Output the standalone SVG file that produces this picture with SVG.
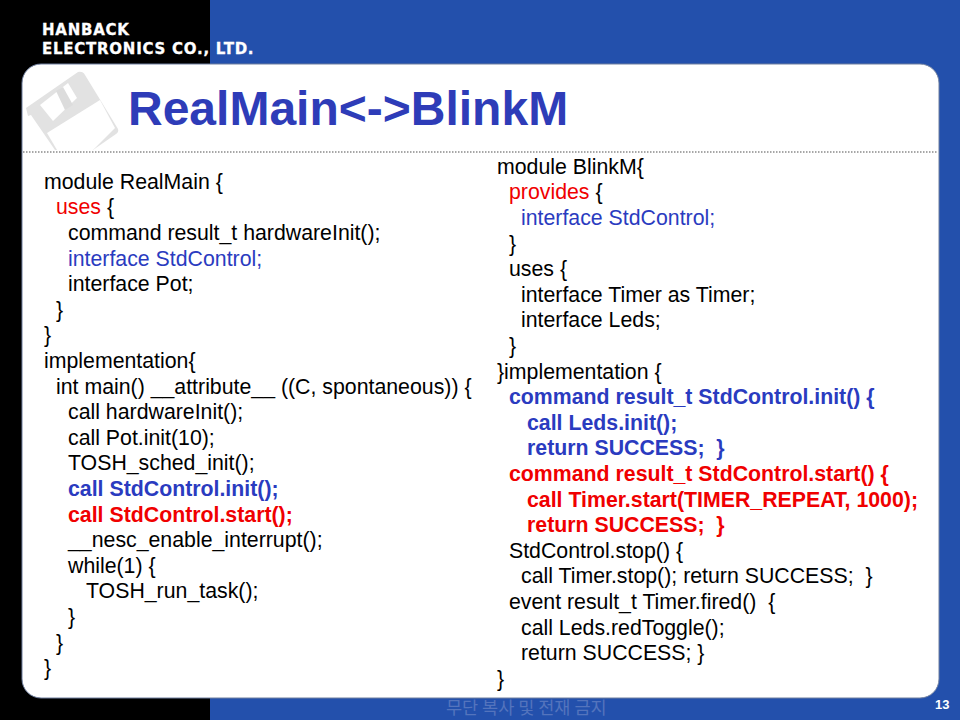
<svg xmlns="http://www.w3.org/2000/svg" width="960" height="720" viewBox="0 0 960 720">
<style>
text{font-family:"Liberation Sans",Arial,sans-serif;white-space:pre}
.c{font-size:21.3px;fill:#000}
.b{fill:#2a3bc0}
.r{fill:#f00000}
.bb{font-weight:bold}
.h{font-family:"DejaVu Sans",sans-serif;font-size:15px;font-weight:bold;fill:#fff;letter-spacing:.75px;stroke:#fff;stroke-width:.3px}
</style>
<rect width="960" height="720" fill="#2350ac"/>
<rect width="210" height="720" fill="#000"/>
<rect x="22" y="64" width="917" height="634" rx="19" fill="#fff" stroke="#6f7f9f" stroke-width="1"/>
<g id="disk">
<path d="M26 108L78 72Q83 71 85 75L118 129Q119 132 116 134L93 150H55L31 115L28 116Z" fill="#e2e2e2"/>
<path d="M40 105L68 83L77 98L53 121Z" fill="#fff"/>
<path d="M56 91L63 87L73 105L65 110Z" fill="#dcdcdc"/>
<path d="M47 133L100 100L115 128L93 150H57Z" fill="#fff"/>
</g>
<line x1="23" y1="152" x2="938" y2="152" stroke="#8a8a8a" stroke-width="1.5" stroke-dasharray="1.5 1.5"/>
<text class="h" x="42" y="35">HANBACK</text>
<text class="h" x="42" y="54">ELECTRONICS CO., LTD.</text>
<text x="128" y="125" font-size="48" font-weight="bold" fill="#2e3cb8">RealMain&lt;-&gt;BlinkM</text>
<g id="left-code">
<text class="c" x="44" y="189">module RealMain {</text>
<text class="c" x="56" y="214"><tspan class="r">uses </tspan>{</text>
<text class="c" x="68" y="240">command result_t hardwareInit();</text>
<text class="c b" x="68" y="266">interface StdControl;</text>
<text class="c" x="68" y="291">interface Pot;</text>
<text class="c" x="56" y="317">}</text>
<text class="c" x="44" y="342">}</text>
<text class="c" x="44" y="368">implementation{</text>
<text class="c" x="56" y="394">int main() __attribute__ ((C, spontaneous)) {</text>
<text class="c" x="68" y="419">call hardwareInit();</text>
<text class="c" x="68" y="445">call Pot.init(10);</text>
<text class="c" x="68" y="470">TOSH_sched_init();</text>
<text class="c b bb" x="68" y="496">call StdControl.init();</text>
<text class="c r bb" x="68" y="522">call StdControl.start();</text>
<text class="c" x="68" y="547">__nesc_enable_interrupt();</text>
<text class="c" x="68" y="573">while(1) {</text>
<text class="c" x="86" y="598">TOSH_run_task();</text>
<text class="c" x="68" y="624">}</text>
<text class="c" x="56" y="650">}</text>
<text class="c" x="44" y="675">}</text>
</g>
<g id="right-code">
<text class="c" x="497" y="174">module BlinkM{</text>
<text class="c" x="509" y="199"><tspan class="r">provides </tspan>{</text>
<text class="c b" x="521" y="225">interface StdControl;</text>
<text class="c" x="509" y="251">}</text>
<text class="c" x="509" y="276">uses {</text>
<text class="c" x="521" y="302">interface Timer as Timer;</text>
<text class="c" x="521" y="327">interface Leds;</text>
<text class="c" x="509" y="353">}</text>
<text class="c" x="497" y="379">}implementation {</text>
<text class="c b bb" x="509" y="404">command result_t StdControl.init() {</text>
<text class="c b bb" x="527" y="430">call Leds.init();</text>
<text class="c b bb" x="527" y="455">return SUCCESS;  }</text>
<text class="c r bb" x="509" y="481">command result_t StdControl.start() {</text>
<text class="c r bb" x="527" y="507">call Timer.start(TIMER_REPEAT, 1000);</text>
<text class="c r bb" x="527" y="532">return SUCCESS;  }</text>
<text class="c" x="509" y="558">StdControl.stop() {</text>
<text class="c" x="521" y="583">call Timer.stop(); return SUCCESS;  }</text>
<text class="c" x="509" y="609">event result_t Timer.fired()  {</text>
<text class="c" x="521" y="635">call Leds.redToggle();</text>
<text class="c" x="521" y="660">return SUCCESS; }</text>
<text class="c" x="497" y="686">}</text>
</g>
<text x="446" y="714" font-size="17.5" fill="#5474bd" style="font-family:'Noto Sans CJK KR','Liberation Sans',sans-serif">무단 복사 및 전재 금지</text>
<text x="935" y="709" font-size="13" font-weight="bold" fill="#fff">13</text>
</svg>
